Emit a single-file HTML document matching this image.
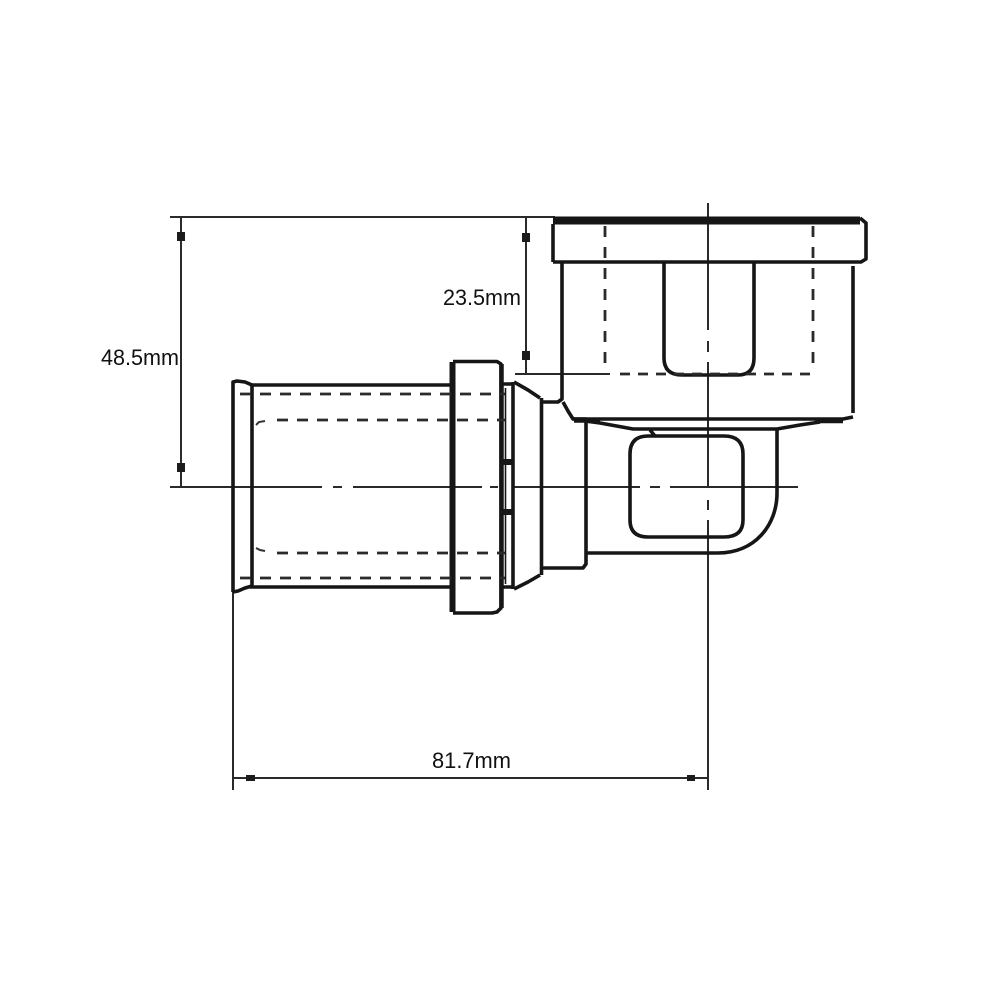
<!DOCTYPE html>
<html><head><meta charset="utf-8"><style>html,body{margin:0;padding:0;background:#fff;width:1000px;height:1000px;overflow:hidden}svg{display:block}text{font-family:"Liberation Sans",sans-serif;font-size:22px;fill:#111}</style></head>
<body><svg width="1000" height="1000" viewBox="0 0 1000 1000" xmlns="http://www.w3.org/2000/svg">
<g fill="none" stroke="#2a2a2a" stroke-width="2">
<path d="M170 217H555"/>
<path d="M170 487H322M333 487H342M353 487H482M490 487H498M513 487H640M650 487H660M670 487H798"/>
<path d="M181 217V487M526 217V374M515 374H610"/>
<path d="M233 590V790M708 203V330M708 341V352M708 362V488M708 500V510M708 520V790M233 778H708"/>
</g>
<g fill="#1c1c1c">
<rect x="177" y="232" width="8" height="9"/><rect x="177" y="463" width="8" height="9"/>
<rect x="522" y="233" width="8" height="9"/><rect x="522" y="351" width="8" height="9"/>
<rect x="246" y="775" width="9" height="6"/><rect x="687" y="775" width="8" height="6"/>
</g>
<g fill="none" stroke="#161616" stroke-width="3.6" stroke-linejoin="round">
<!-- left pipe -->
<path d="M252 385V587M250 385H452M250 587H452"/>
<path d="M233 592V382L237 381L245 382L252 385M233 592L238 591L245 588L252 586"/>
<!-- flange -->
<path d="M452.500 362V612" stroke-width="6"/>
<path d="M453 361.500H497L501 364V608L497 612L492 613H453"/>
<path d="M501.500 364V608" stroke-width="4.500"/>
<!-- ring -->
<path d="M502 384H513M502 587H513"/>
<path d="M513 382V589"/>
<path d="M505.500 388V584" stroke-width="1.6"/>
<!-- cone -->
<path d="M514 382L528 390L540 398M514 589L528 582L540 575"/>
<path d="M541.500 398V575"/>
<path d="M542 402H558L562 399V262M563 402L568 411L573 419H586M542 568H583L586 564V420"/>
<!-- top fitting -->
<path d="M553 262L553 224"/>
<path d="M553 220.500H860" stroke-width="8"/>
<path d="M860 218L866 223V259L861 262H553"/>
<path d="M853 266V413M853 417L843 419H573"/>
<path d="M664 262V358Q664 375 682 375H738Q754 375 754 358V262"/>
<!-- lower wedge -->
<path d="M585 421L600 423L633 429H777L800 425L820 422"/>
<path d="M574 420.500H600M815 421H843" stroke-width="4.500"/>
<!-- elbow -->
<path d="M586 553H718C755 553 777 525 777 493V430"/>
<path d="M654 436H724Q743 436 743 454V520Q743 537 724 537H648Q630 537 630 520V454Q630 436 648 436H654M650 430L655 436"/>
</g>
<g fill="#161616"><rect x="500" y="459" width="13" height="6"/><rect x="500" y="509" width="13" height="6"/></g>
<g fill="none" stroke="#2a2a2a" stroke-width="2.800" stroke-dasharray="11 9">
<path d="M240 394H505M277 420H505M277 553H505M240 578H505"/>
<path d="M605 226V368M813 226V368" stroke-dasharray="11 10"/>
<path d="M620 374H813" stroke-dasharray="10 8"/>
</g>
<g fill="none" stroke="#333" stroke-width="2">
<path d="M256 425L259 422L265 421M256 548L260 550L265 551"/>
</g>
<text x="101" y="365" textLength="78" lengthAdjust="spacingAndGlyphs">48.5mm</text>
<text x="443" y="305" textLength="78" lengthAdjust="spacingAndGlyphs">23.5mm</text>
<text x="432" y="768" textLength="79" lengthAdjust="spacingAndGlyphs">81.7mm</text>
</svg></body></html>
